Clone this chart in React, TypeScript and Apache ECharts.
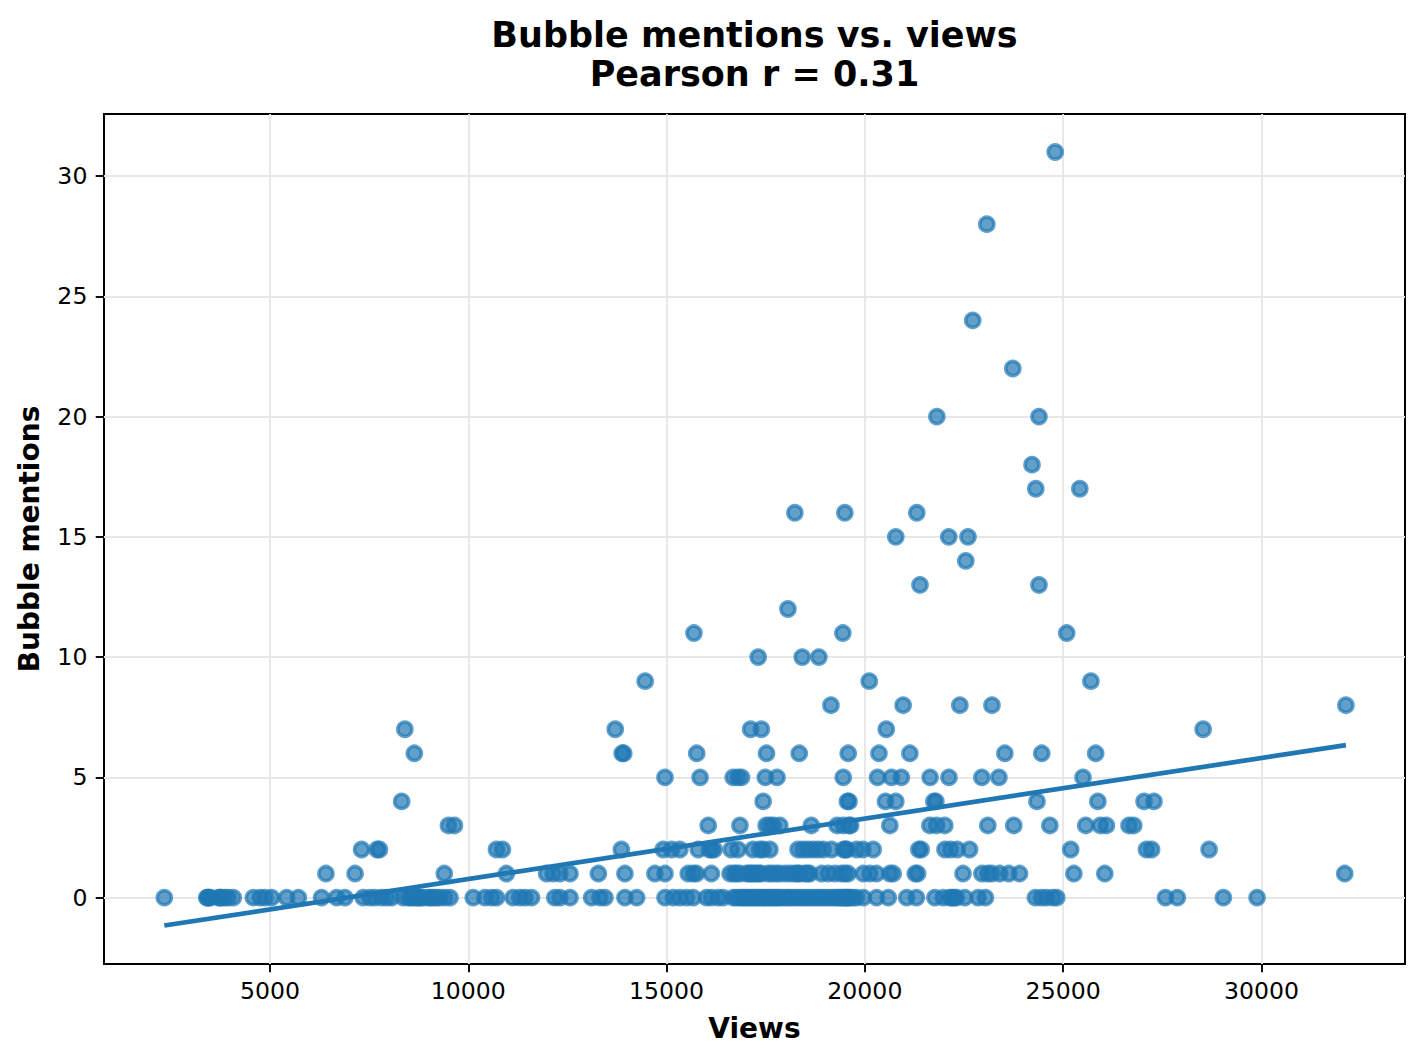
import React, { useEffect, useRef } from "react";
import * as echarts from "echarts";

const TITLE_LINES = ["Bubble mentions vs. views", "Pearson r = 0.31"];
const X_LABEL = "Views";
const Y_LABEL = "Bubble mentions";
const xTicks = [5000, 10000, 15000, 20000, 25000, 30000];
const yTicks = [0, 5, 10, 15, 20, 25, 30];
const xRange = [814, 33620];
const yRange = [-2.76, 32.58];

// views of videos with 0 bubble mentions
const views0 = [
  2335, 3405, 3430, 3460, 3490, 3700, 3740, 3780, 3865, 3950, 4075, 4580, 4750, 4875, 5040,
  5420, 5715, 6300, 6680, 6890, 7350, 7520, 7645, 7810, 7940, 8065, 8360, 8485, 8550, 8610,
  8700, 8735, 8800, 8860, 8990, 9050, 9115, 9200, 9285, 9410, 9540, 10125, 10420, 10590, 10710,
  11130, 11300, 11430, 11595, 12180, 12310, 12565, 13110, 13320, 13445, 13950, 14245, 14960,
  15170, 15335, 15505, 15670, 16005, 16130, 16300, 16425, 16680, 16760, 16850, 16910, 16975,
  17040, 17100, 17160, 17225, 17290, 17350, 17420, 17480, 17540, 17605, 17670, 17730, 17790,
  17855, 17940, 18025, 18100, 18190, 18270, 18360, 18440, 18530, 18610, 18695, 18780, 18865,
  18950, 19030, 19120, 19200, 19285, 19350, 19400, 19455, 19500, 19540, 19580, 19620, 19700,
  19790, 19960, 20295, 20590, 21055, 21300, 21765, 21975, 22140, 22200, 22250, 22310, 22520,
  22855, 23040, 24300, 24450, 24575, 24740, 24840, 27580, 27880, 29040, 29890,
];
// 1 mention
const views1 = [
  6410, 7145, 9395, 10960, 11975, 12140, 12310, 12565, 13280, 13950, 14705, 14960, 15545, 15670,
  15755, 16130, 16600, 16700, 16765, 16850, 17020, 17080, 17145, 17200, 17270, 17330, 17395,
  17560, 17650, 17760, 17855, 18000, 18120, 18235, 18300, 18360, 18490, 18550, 18615, 18910,
  19075, 19245, 19410, 19500, 19580, 19960, 20125, 20295, 20630, 20715, 21270, 21330, 22475,
  22950, 23100, 23200, 23400, 23630, 23900, 25270, 26050, 32100,
];
// 2 mentions
const views2 = [
  7310, 7700, 7760, 10710, 10860, 13860, 14915, 15125, 15335, 15800, 16080, 16140, 16200, 16630,
  16800, 17180, 17350, 17435, 17605, 18315, 18440, 18565, 18695, 18820, 18950, 19160, 19460,
  19520, 19540, 19790, 19950, 20210, 21360, 21420, 22020, 22160, 22330, 22640, 25190, 27100,
  27230, 28680,
];
// 3 mentions
const views3 = [
  9500, 9650, 16050, 16850, 17510, 17600, 17690, 17855, 18650, 19300, 19460, 19600, 19640, 20630,
  21640, 21810, 22015, 23100, 23755, 24665, 25570, 25940, 26090, 26660, 26780,
];
const views4 = [8320, 17435, 19560, 19600, 20520, 20780, 21740, 21790, 24340, 25875, 27040, 27290];
const views5 = [
  14960, 15845, 16680, 16800, 16890, 17490, 17785, 19455, 20320, 20670, 20920, 21645, 22120,
  22950, 23380, 25500,
];
const views6 = [8640, 13880, 13920, 15760, 17520, 18345, 19580, 20355, 21135, 23530, 24460, 25820];
const views7 = [8400, 13705, 17120, 17390, 20540, 28530];
const views8 = [19145, 20965, 22395, 23205, 32130];

// points with 9 or more mentions
const upperViews = [
  14460, 20110, 25700, 17310, 18420, 18840, 15690, 19445, 25090, 18060, 21390, 24390, 22545,
  20780, 22115, 22600, 18235, 19495, 21310, 24310, 25420, 24215, 21815, 24390, 23730, 22720,
  23075, 24800,
];
const upperMentions = [
  9, 9, 9, 10, 10, 10, 11, 11, 11, 12, 13, 13, 14, 15, 15, 15, 16, 16, 16, 17, 17, 18, 20, 20, 22,
  24, 28, 31,
];

// least-squares trend line end points
const trendViews = [2335, 32130];
const trendMentions = [-1.16, 6.34];

const FONT = "DejaVu Sans";

function buildPoints(): number[][] {
  const rows = [views0, views1, views2, views3, views4, views5, views6, views7, views8];
  const pts: number[][] = [];
  rows.forEach((row, m) => row.forEach((v) => pts.push([v, m])));
  upperViews.forEach((v, i) => pts.push([v, upperMentions[i]]));
  return pts;
}

export default function App() {
  const ref = useRef<HTMLDivElement>(null);
  useEffect(() => {
    if (!ref.current) return;
    const chart = echarts.init(ref.current, undefined, { renderer: "svg" });
    const tickStyle = { color: "#000", width: 1.9 };
    const splitLine = { show: true, lineStyle: { color: "#e7e7e7", width: 1.9 } };
    const nameStyle = {
      fontFamily: FONT,
      fontSize: 28,
      fontWeight: "bold",
      color: "#000",
      lineHeight: 28,
    };
    const titleStyle = {
      fontFamily: FONT,
      fontSize: 35,
      fontWeight: "bold",
      fill: "#000",
      align: "center",
      verticalAlign: "middle",
    };
    const option: any = {
      animation: false,
      backgroundColor: "#ffffff",
      textStyle: { fontFamily: FONT },
      tooltip: { show: false },
      grid: {
        left: 104,
        top: 114,
        width: 1301,
        height: 850,
        show: true,
        borderColor: "#000",
        borderWidth: 2,
        backgroundColor: "transparent",
        containLabel: false,
        outerBoundsMode: "none",
      },
      graphic: [
        { type: "text", x: 754.5, y: 35, style: { ...titleStyle, text: TITLE_LINES[0] } },
        { type: "text", x: 754.5, y: 73.5, style: { ...titleStyle, text: TITLE_LINES[1] } },
      ],
      xAxis: {
        type: "value",
        min: xRange[0],
        max: xRange[1],
        name: X_LABEL,
        nameLocation: "middle",
        nameGap: 50,
        nameTextStyle: nameStyle,
        axisLine: { show: false, onZero: false },
        axisTick: { show: true, length: 8.3, lineStyle: tickStyle, customValues: xTicks },
        axisLabel: {
          customValues: xTicks,
          formatter: (v: number) => String(v),
          fontFamily: FONT,
          fontSize: 23.6,
          color: "#000",
          margin: 14.5,
        },
        splitLine,
      },
      yAxis: {
        type: "value",
        min: yRange[0],
        max: yRange[1],
        name: Y_LABEL,
        nameLocation: "middle",
        nameRotate: 90,
        nameGap: 61,
        nameTextStyle: nameStyle,
        axisLine: { show: false, onZero: false },
        axisTick: { show: true, length: 8.3, lineStyle: tickStyle, customValues: yTicks },
        axisLabel: {
          customValues: yTicks,
          formatter: (v: number) => String(v),
          fontFamily: FONT,
          fontSize: 23.6,
          color: "#000",
          margin: 16.6,
        },
        splitLine,
      },
      series: [
        {
          type: "scatter",
          data: buildPoints(),
          symbol: "circle",
          symbolSize: 14.2,
          silent: true,
          itemStyle: {
            color: "rgba(31,119,180,0.7)",
            borderColor: "rgba(31,119,180,0.7)",
            borderWidth: 3.5,
            opacity: 1,
          },
          z: 2,
        },
        {
          type: "line",
          data: trendViews.map((v, i) => [v, trendMentions[i]]),
          symbol: "none",
          showSymbol: false,
          silent: true,
          lineStyle: { color: "#1f77b4", width: 4.7 },
          z: 3,
        },
      ],
    };
    chart.setOption(option);
    return () => chart.dispose();
  }, []);
  return (
    <div style={{ position: "fixed", left: 0, top: 0, width: 1423, height: 1061, background: "#fff" }}>
      <div ref={ref} style={{ width: 1423, height: 1061 }} />
    </div>
  );
}
